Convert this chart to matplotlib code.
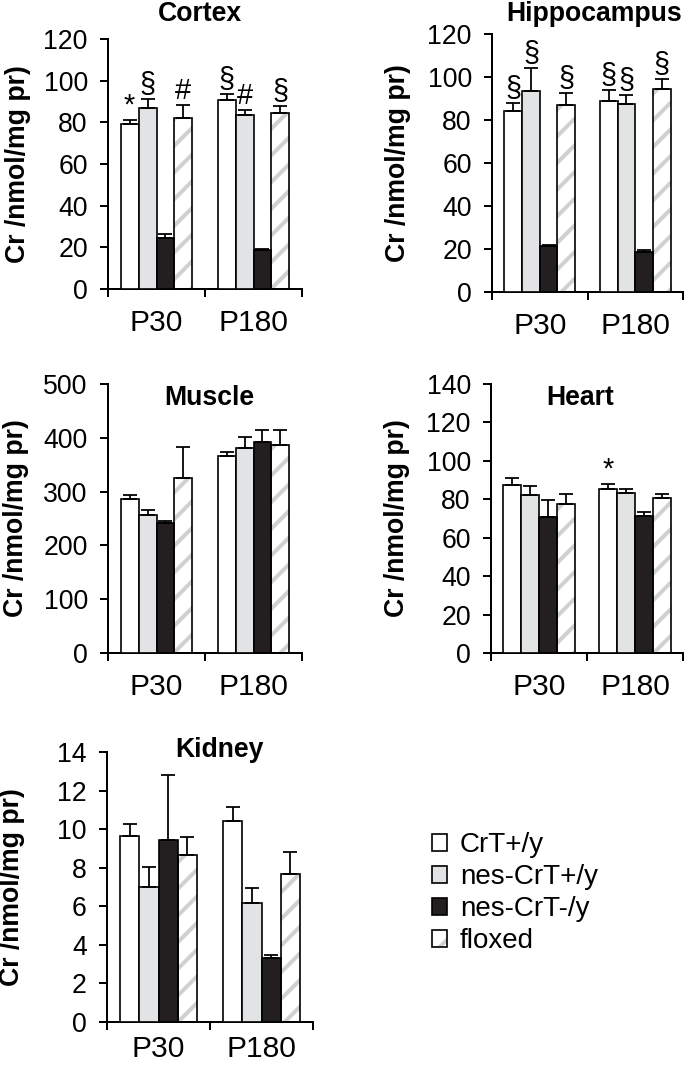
import matplotlib
matplotlib.use('Agg')
import matplotlib.pyplot as plt
from matplotlib.patches import Patch
import numpy as np

plt.rcParams['font.family'] = ['Liberation Sans', 'DejaVu Sans']
plt.rcParams['hatch.linewidth'] = 3.6

# ---------------- data ----------------
groups = ['P30', 'P180']
genotypes = ['CrT+/y', 'nes-CrT+/y', 'nes-CrT-/y', 'floxed']

cortex_mean = [[79.1, 87.1, 24.5, 82.3], [90.8, 83.6, 18.9, 84.4]]
cortex_err = [[2.0, 4.3, 2.0, 6.0], [3.0, 2.4, 0.3, 3.5]]
cortex_marks = [['*', '§', '', '#'], ['§', '#', '', '§']]

hippo_mean = [[84.2, 93.7, 21.5, 87.0], [88.7, 87.5, 18.5, 94.6]]
hippo_err = [[3.8, 10.5, 0.5, 5.4], [5.3, 4.1, 1.2, 4.4]]
hippo_marks = [['§', '§', '', '§'], ['§', '§', '', '§']]

muscle_mean = [[286, 256, 242, 325], [366, 381, 392, 386]]
muscle_err = [[7, 10, 4, 57], [8, 20, 22, 28]]
muscle_marks = [['', '', '', ''], ['', '', '', '']]

heart_mean = [[87.4, 82.2, 70.6, 77.4], [85.5, 83.4, 71.5, 80.5]]
heart_err = [[3.6, 4.8, 9.2, 5.6], [2.5, 2.0, 1.7, 2.5]]
heart_marks = [['', '', '', ''], ['*', '', '', '']]

kidney_mean = [[9.65, 7.02, 9.45, 8.67], [10.4, 6.15, 3.3, 7.68]]
kidney_err = [[0.6, 1.04, 3.37, 0.91], [0.73, 0.78, 0.17, 1.12]]
kidney_marks = [['', '', '', ''], ['', '', '', '']]

ylabel = 'Cr /nmol/mg pr)'

# ---------------- styling ----------------
W, H = 685, 1066
DPI = 80
GRAY = '#e1e3e5'
BLACK = '#231f20'
HATCH_C = '#cfd0d2'

fig = plt.figure(figsize=(W / DPI, H / DPI), dpi=DPI)


def rect(left, right, top, bottom):
    return [left / W, 1 - bottom / H, (right - left) / W, (bottom - top) / H]


panels = [
    dict(name='Cortex', mean=cortex_mean, err=cortex_err, marks=cortex_marks,
         ymax=120, step=20, r=rect(108, 302, 39, 289), ylx=31, title=(200, 14), xpad=18),
    dict(name='Hippocampus', mean=hippo_mean, err=hippo_err, marks=hippo_marks,
         ymax=120, step=20, r=rect(492, 683, 34, 292), ylx=411, title=(594, 14), xpad=18),
    dict(name='Muscle', mean=muscle_mean, err=muscle_err, marks=muscle_marks,
         ymax=500, step=100, r=rect(108, 302, 384, 653), ylx=29, title=(209, 398), xpad=18),
    dict(name='Heart', mean=heart_mean, err=heart_err, marks=heart_marks,
         ymax=140, step=20, r=rect(491, 683, 384, 653), ylx=410, title=(580, 398), xpad=18),
    dict(name='Kidney', mean=kidney_mean, err=kidney_err, marks=kidney_marks,
         ymax=14, step=2, r=rect(107, 313, 752, 1022), ylx=25, title=(219, 750), xpad=12),
]

bw = 0.185
face = ['white', GRAY, BLACK, 'white']

for p in panels:
    ax = fig.add_axes(p['r'])
    mean = np.array(p['mean'], dtype=float)
    err = np.array(p['err'], dtype=float)
    for k in range(4):
        xs = np.arange(len(groups)) + (k - 1.5) * bw
        if k == 3:
            ax.bar(xs, mean[:, k], bw, color='white', edgecolor=HATCH_C,
                   hatch='/', linewidth=0, zorder=2)
            ax.bar(xs, mean[:, k], bw, color='none', edgecolor='black',
                   linewidth=1.5, zorder=3)
        else:
            ax.bar(xs, mean[:, k], bw, color=face[k], edgecolor='black',
                   linewidth=1.5, zorder=3)
        ax.errorbar(xs, mean[:, k], yerr=[np.zeros(len(groups)), err[:, k]],
                    fmt='none', ecolor='black', elinewidth=1.6, capsize=6.3,
                    capthick=1.6, zorder=4)
        for g in range(len(groups)):
            m = p['marks'][g][k]
            if m:
                ax.annotate(m, (xs[g], mean[g, k] + err[g, k]),
                            xytext=(0, 0), textcoords='offset points',
                            ha='center', va='bottom', fontsize=26)
    ax.set_xlim(-0.5, len(groups) - 0.5)
    ax.set_ylim(0, p['ymax'])
    ax.set_yticks(np.arange(0, p['ymax'] + p['step'] / 2, p['step']))
    ax.set_xticks(np.arange(len(groups)))
    ax.set_xticklabels(groups, fontsize=27)
    ax.set_xticks(np.arange(len(groups) + 1) - 0.5, minor=True)
    ax.tick_params(axis='x', which='major', length=0, pad=p['xpad'])
    ax.tick_params(axis='x', which='minor', length=7.2, width=1.8, direction='out')
    ax.tick_params(axis='y', length=7.2, width=1.8, direction='out', pad=11,
                   labelsize=24)
    for s in ['top', 'right']:
        ax.spines[s].set_visible(False)
    for s in ['left', 'bottom']:
        ax.spines[s].set_linewidth(1.8)
    ax.set_ylabel(ylabel, fontsize=24, fontweight='bold')
    l, b, w, h = p['r']
    ax.yaxis.set_label_coords((p['ylx'] / W - l) / w, 0.5)
    fig.text(p['title'][0] / W, 1 - p['title'][1] / H, p['name'],
             ha='center', va='center', fontsize=24, fontweight='bold')

# legend
handles = [
    Patch(facecolor='white', edgecolor='black', linewidth=1.5),
    Patch(facecolor=GRAY, edgecolor='black', linewidth=1.5),
    Patch(facecolor=BLACK, edgecolor='black', linewidth=1.5),
    (Patch(facecolor='white', edgecolor=HATCH_C, hatch='/', linewidth=0),
     Patch(facecolor='none', edgecolor='black', linewidth=1.5)),
]
fig.legend(handles, genotypes, loc='upper left',
           bbox_to_anchor=(432 / W, 1 - 832 / H), frameon=False,
           fontsize=25, handlelength=0.55, handleheight=0.55,
           handletextpad=0.45, labelspacing=0.22, borderpad=0, borderaxespad=0)

fig.savefig('out.png', dpi=DPI)
